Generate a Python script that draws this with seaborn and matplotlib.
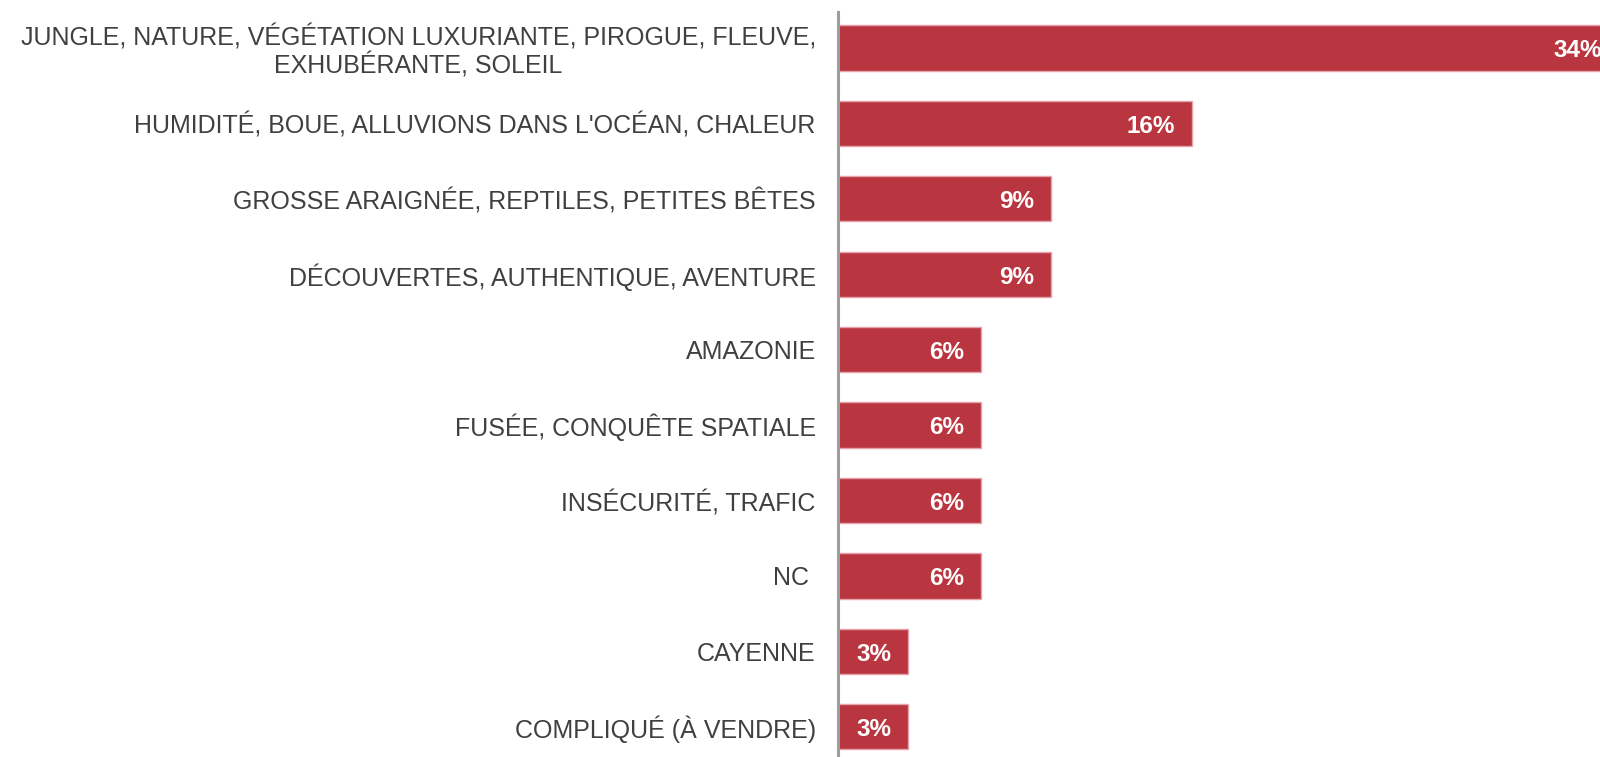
import numpy as np
import pandas as pd
import matplotlib
matplotlib.use("Agg")
import matplotlib.pyplot as plt
import seaborn as sns

# ── Data ───────────────────────────────────────────────────────────────────────
categories = [
    "JUNGLE, NATURE, VÉGÉTATION LUXURIANTE, PIROGUE, FLEUVE,\nEXHUBÉRANTE, SOLEIL",
    "HUMIDITÉ, BOUE, ALLUVIONS DANS L'OCÉAN, CHALEUR",
    "GROSSE ARAIGNÉE, REPTILES, PETITES BÊTES",
    "DÉCOUVERTES, AUTHENTIQUE, AVENTURE",
    "AMAZONIE",
    "FUSÉE, CONQUÊTE SPATIALE",
    "INSÉCURITÉ, TRAFIC",
    "NC ",
    "CAYENNE",
    "COMPLIQUÉ (À VENDRE)",
]
values = [34.4, 15.6, 9.4, 9.4, 6.3, 6.3, 6.3, 6.3, 3.1, 3.1]
value_labels = ["34%", "16%", "9%", "9%", "6%", "6%", "6%", "6%", "3%", "3%"]

BAR_COLOR = "#B93540"
TEXT_COLOR = "#404040"

sns.set_theme(style="white")
plt.rcParams["font.family"] = ["Liberation Sans", "DejaVu Sans"]

df = pd.DataFrame({"category": categories, "value": values})

fig = plt.figure(figsize=(16, 7.57), dpi=100)
ax = fig.add_axes([838 / 1600, 0.0, 1 - 838 / 1600, 1 - 12 / 757])

sns.barplot(data=df, x="value", y="category", orient="h", ax=ax,
            color=BAR_COLOR, saturation=1, width=0.6,
            edgecolor="#E6A3AA", linewidth=1)

# value labels inside the bar ends
for i, (v, lab) in enumerate(zip(values, value_labels)):
    ax.annotate(lab, xy=(v, i), xytext=(-12, -2), textcoords="offset points",
                ha="right", va="center", color="white", fontsize=17.5,
                fontweight="bold", annotation_clip=False)

ax.set_xlim(0, 33.6)
ax.set_ylim(9.40, -0.477)
ax.set_xlabel("")
ax.set_ylabel("")
ax.set_xticks([])
ax.tick_params(axis="y", length=0, pad=16, labelsize=18, labelcolor=TEXT_COLOR)
for t in ax.get_yticklabels():
    t.set_multialignment("center")
    t.set_linespacing(1.1)

for s in ["top", "right", "bottom"]:
    ax.spines[s].set_visible(False)
ax.spines["left"].set_color("#9E9E9E")
ax.spines["left"].set_linewidth(2.2)

fig.savefig("out.png", dpi=100)
plt.close(fig)
